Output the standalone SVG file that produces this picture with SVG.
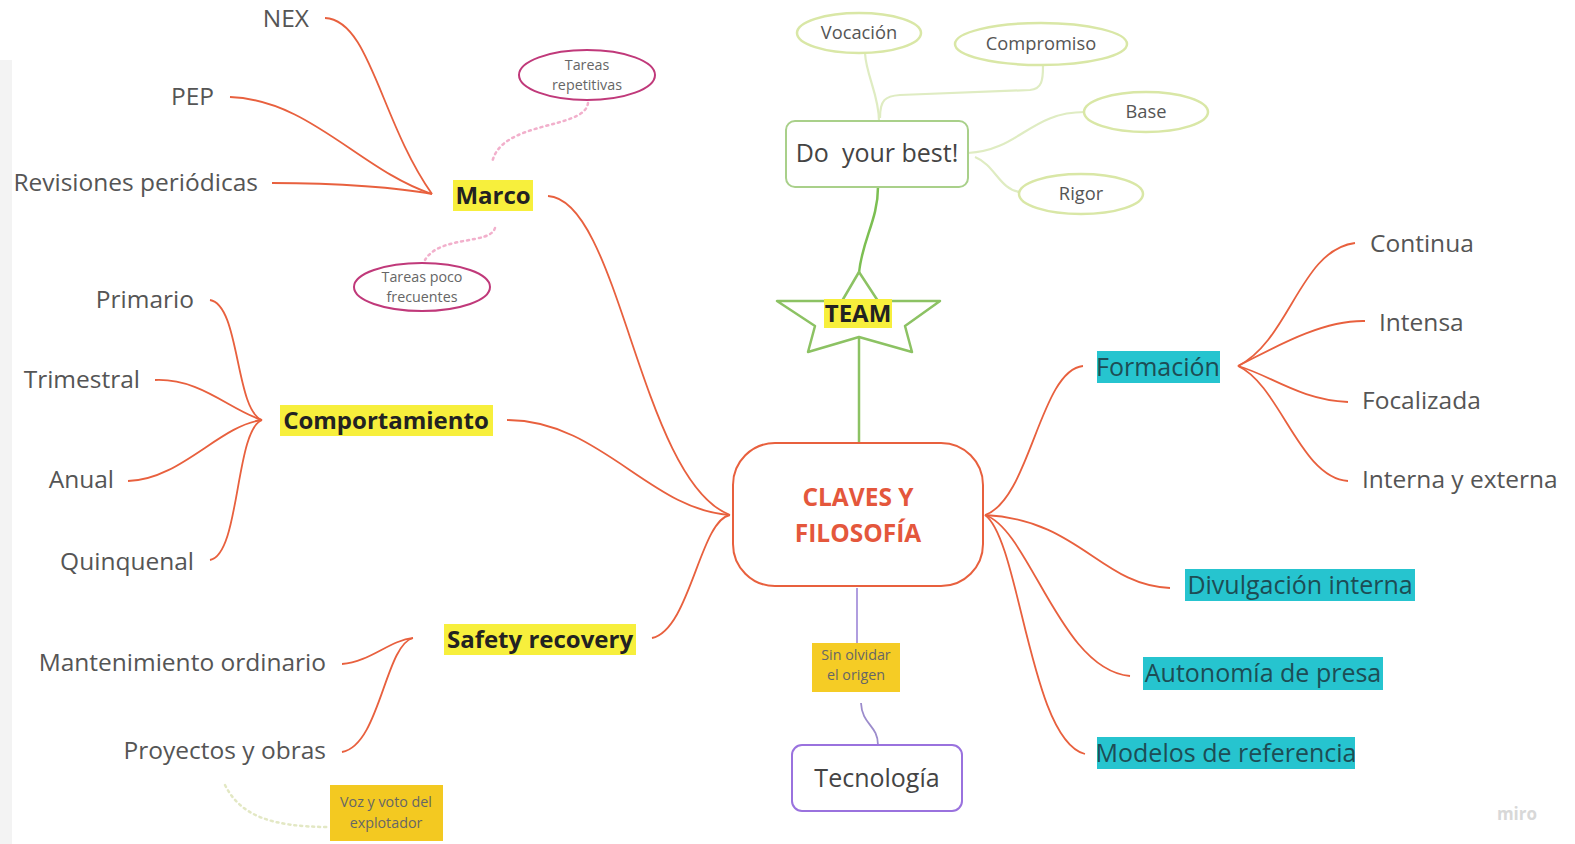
<svg xmlns="http://www.w3.org/2000/svg" width="1575" height="844" viewBox="0 0 1575 844">
<style>
.leaf{font-family:"Open Sans","Liberation Sans",sans-serif;font-size:24.5px;fill:#555;}
.bold{font-family:"Open Sans","Liberation Sans",sans-serif;font-size:24px;font-weight:bold;fill:#222;text-anchor:middle;}
.cyan{font-family:"Open Sans","Liberation Sans",sans-serif;font-size:25px;fill:#1d4d55;}
.small{font-family:"Open Sans","Liberation Sans",sans-serif;font-size:14.3px;fill:#666;text-anchor:middle;}
.oval{font-family:"Open Sans","Liberation Sans",sans-serif;font-size:18.3px;fill:#555;text-anchor:middle;}
.red{fill:none;stroke:#e8603e;stroke-width:1.8;}
.lg{fill:none;stroke:#dfecc2;stroke-width:2.2;}
.hy{fill:#f7ef3c;}
.hc{fill:#26c4cf;}
.pinkdot{fill:none;stroke:#f2b0cc;stroke-width:2.5;stroke-dasharray:2 4;stroke-linecap:round;}
.ovg{fill:#fff;stroke:#d9e7a6;stroke-width:2.5;}
.ovm{fill:#fff;stroke:#c0397a;stroke-width:2;}
</style>
<rect width="1575" height="844" fill="#fff"/>
<rect x="0" y="60" width="12" height="784" fill="#f3f3f3"/>

<g id="connectors">
  <path class="red" d="M325,18 C370,20 380,120 432,194"/>
  <path class="red" d="M230,97 C310,100 360,170 432,194"/>
  <path class="red" d="M272,183 C340,183 400,188 432,194"/>
  <path class="red" d="M548,196 C620,200 640,480 730,515"/>
  <path class="red" d="M210,300 C240,305 235,410 262,420"/>
  <path class="red" d="M155,380 C200,378 230,410 262,420"/>
  <path class="red" d="M128,481 C180,480 220,425 262,420"/>
  <path class="red" d="M210,560 C240,555 235,430 262,420"/>
  <path class="red" d="M507,420 C600,420 650,510 730,515"/>
  <path class="red" d="M342,664 C370,662 390,640 413,638"/>
  <path class="red" d="M342,752 C380,745 385,645 413,638"/>
  <path class="red" d="M652,638 C690,630 700,520 730,515"/>
  <path class="red" d="M985,515 C1030,500 1040,370 1083,366"/>
  <path class="red" d="M985,515 C1080,520 1100,585 1170,588"/>
  <path class="red" d="M985,515 C1030,530 1060,670 1130,676"/>
  <path class="red" d="M985,515 C1020,540 1030,740 1085,754"/>
  <path class="red" d="M1355,243 C1300,250 1290,340 1238,366"/>
  <path class="red" d="M1365,321 C1320,320 1270,350 1238,366"/>
  <path class="red" d="M1348,402 C1300,400 1270,375 1238,366"/>
  <path class="red" d="M1348,481 C1300,478 1280,385 1238,366"/>
  <path d="M859,337 L859,443" fill="none" stroke="#8cc263" stroke-width="2.5"/>
  <path d="M859,273 C862,240 878,220 878,187" fill="none" stroke="#7cbf52" stroke-width="2.5"/>
  <path class="lg" d="M879,121 C879,95 866,75 865,53"/>
  <path class="lg" d="M880,118 C880,100 885,96 900,95 L1030,90 C1042,89 1043,80 1043,66"/>
  <path class="lg" d="M968,153 C1020,150 1030,112 1085,112"/>
  <path class="lg" d="M975,157 C995,165 1000,190 1020,192"/>
  <path d="M857,588 L857,643" fill="none" stroke="#a893dc" stroke-width="1.8"/>
  <path d="M861,703 C862,725 878,725 878,745" fill="none" stroke="#9c8ccc" stroke-width="1.8"/>
  <path class="pinkdot" d="M588,103 C585,130 500,120 492,163"/>
  <path class="pinkdot" d="M495,228 C490,245 440,235 425,260"/>
  <path d="M225,785 C240,815 270,827 330,827" fill="none" stroke="#e3e8c4" stroke-width="2.5" stroke-dasharray="2 4" stroke-linecap="round"/>
</g>

<g id="central">
  <rect x="733" y="443" width="250" height="143" rx="42" fill="#fff" stroke="#e8603e" stroke-width="2"/>
  <text x="858" y="506" font-family="'Open Sans','Liberation Sans',sans-serif" font-size="24.5" font-weight="bold" fill="#e4573c" text-anchor="middle">CLAVES Y</text>
  <text x="858" y="542" font-family="'Open Sans','Liberation Sans',sans-serif" font-size="24.5" font-weight="bold" fill="#e4573c" text-anchor="middle">FILOSOFÍA</text>
</g>

<g id="team">
  <polygon points="859,272 878,301 940,301 905,326 912,352 859,337 808,352 815,326 777,301 842,301" fill="#fff" stroke="#8cc263" stroke-width="2.5" stroke-linejoin="round"/>
  <rect class="hy" x="824" y="299" width="68" height="29"/>
  <text class="bold" x="858" y="322">TEAM</text>
</g>

<g id="doyourbest">
  <rect x="786" y="121" width="182" height="66" rx="9" fill="#fff" stroke="#a9d08a" stroke-width="2"/>
  <text x="877" y="162" font-family="'Open Sans','Liberation Sans',sans-serif" font-size="25" fill="#444" text-anchor="middle" xml:space="preserve">Do  your best!</text>
</g>
<g id="vocacion"><ellipse class="ovg" cx="859" cy="33" rx="62" ry="20"/><text class="oval" x="859" y="39">Vocación</text></g>
<g id="compromiso"><ellipse class="ovg" cx="1041" cy="44" rx="86" ry="21"/><text class="oval" x="1041" y="50">Compromiso</text></g>
<g id="base"><ellipse class="ovg" cx="1146" cy="112" rx="62" ry="20"/><text class="oval" x="1146" y="118">Base</text></g>
<g id="rigor"><ellipse class="ovg" cx="1081" cy="194" rx="62" ry="20"/><text class="oval" x="1081" y="200">Rigor</text></g>

<g id="marco">
  <rect class="hy" x="453" y="180" width="80" height="31"/>
  <text class="bold" x="493" y="204">Marco</text>
</g>
<g id="nex"><text class="leaf" x="309" y="27" text-anchor="end">NEX</text></g>
<g id="pep"><text class="leaf" x="214" y="105" text-anchor="end">PEP</text></g>
<g id="revisiones"><text class="leaf" x="258" y="191" text-anchor="end">Revisiones periódicas</text></g>
<g id="tareasrep"><ellipse class="ovm" cx="587" cy="75" rx="68" ry="25"/><text class="small" x="587" y="70">Tareas</text><text class="small" x="587" y="90">repetitivas</text></g>
<g id="tareaspoco"><ellipse class="ovm" cx="422" cy="287" rx="68" ry="24"/><text class="small" x="422" y="282">Tareas poco</text><text class="small" x="422" y="302">frecuentes</text></g>

<g id="comportamiento">
  <rect class="hy" x="280" y="405" width="213" height="31"/>
  <text class="bold" x="386" y="429">Comportamiento</text>
</g>
<g id="primario"><text class="leaf" x="194" y="308" text-anchor="end">Primario</text></g>
<g id="trimestral"><text class="leaf" x="140" y="388" text-anchor="end">Trimestral</text></g>
<g id="anual"><text class="leaf" x="114" y="488" text-anchor="end">Anual</text></g>
<g id="quinquenal"><text class="leaf" x="194" y="570" text-anchor="end">Quinquenal</text></g>

<g id="safety">
  <rect class="hy" x="444" y="624" width="192" height="31"/>
  <text class="bold" x="540" y="648">Safety recovery</text>
</g>
<g id="mantenimiento"><text class="leaf" x="326" y="671" text-anchor="end">Mantenimiento ordinario</text></g>
<g id="proyectos"><text class="leaf" x="326" y="759" text-anchor="end">Proyectos y obras</text></g>
<g id="voz">
  <rect x="330" y="785" width="113" height="56" fill="#f3c921"/>
  <text class="small" x="386" y="807" fill="#5a5020">Voz y voto del</text>
  <text class="small" x="386" y="828" fill="#5a5020">explotador</text>
</g>

<g id="sinolvidar">
  <rect x="812" y="643" width="88" height="49" fill="#f5cc25"/>
  <text class="small" x="856" y="660" fill="#6a5a20">Sin olvidar</text>
  <text class="small" x="856" y="680" fill="#6a5a20">el origen</text>
</g>
<g id="tecnologia">
  <rect x="792" y="745" width="170" height="66" rx="10" fill="#fff" stroke="#9a72de" stroke-width="2"/>
  <text x="877" y="787" font-family="'Open Sans','Liberation Sans',sans-serif" font-size="25" fill="#444" text-anchor="middle">Tecnología</text>
</g>

<g id="formacion">
  <rect class="hc" x="1097" y="351" width="123" height="32"/>
  <text class="cyan" x="1158" y="376" text-anchor="middle">Formación</text>
</g>
<g id="continua"><text class="leaf" x="1370" y="252">Continua</text></g>
<g id="intensa"><text class="leaf" x="1379" y="331">Intensa</text></g>
<g id="focalizada"><text class="leaf" x="1362" y="409">Focalizada</text></g>
<g id="interna"><text class="leaf" x="1362" y="488">Interna y externa</text></g>

<g id="divulgacion">
  <rect class="hc" x="1185" y="569" width="230" height="32"/>
  <text class="cyan" x="1300" y="594" text-anchor="middle">Divulgación interna</text>
</g>
<g id="autonomia">
  <rect class="hc" x="1143" y="657" width="240" height="33"/>
  <text class="cyan" x="1263" y="682" text-anchor="middle">Autonomía de presa</text>
</g>
<g id="modelos">
  <rect class="hc" x="1097" y="737" width="258" height="32"/>
  <text class="cyan" x="1226" y="762" text-anchor="middle">Modelos de referencia</text>
</g>

<text x="1517" y="820" font-family="'Open Sans','Liberation Sans',sans-serif" font-size="17" font-weight="bold" fill="#d8d8d8" text-anchor="middle">miro</text>
</svg>
